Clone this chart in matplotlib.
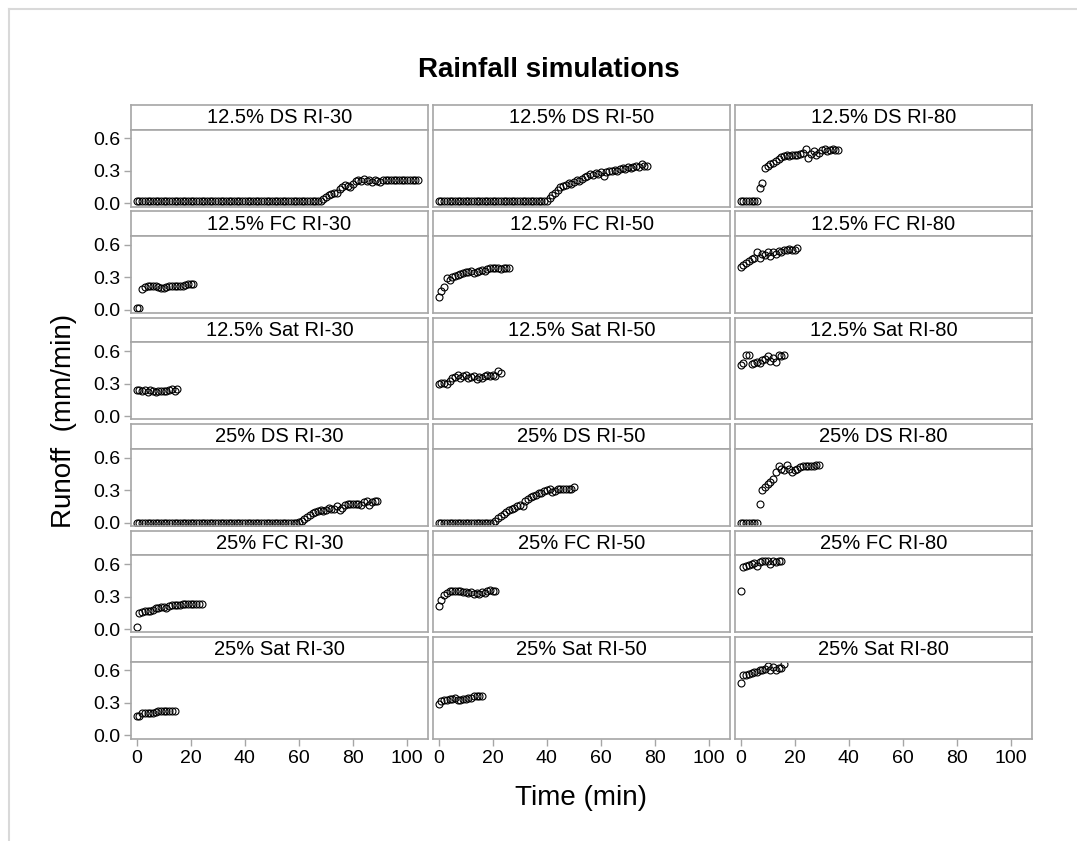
import numpy as np
import matplotlib.pyplot as plt
from matplotlib.lines import Line2D

plt.rcParams['font.family'] = ['Liberation Sans', 'DejaVu Sans']

panel_titles = [
    "12.5% DS RI-30", "12.5% DS RI-50", "12.5% DS RI-80",
    "12.5% FC RI-30", "12.5% FC RI-50", "12.5% FC RI-80",
    "12.5% Sat RI-30", "12.5% Sat RI-50", "12.5% Sat RI-80",
    "25% DS RI-30", "25% DS RI-50", "25% DS RI-80",
    "25% FC RI-30", "25% FC RI-50", "25% FC RI-80",
    "25% Sat RI-30", "25% Sat RI-50", "25% Sat RI-80",
]

# runoff (mm/min), one reading per minute starting at t = 0
ds125_ri30 = [
    0.02, 0.02, 0.02, 0.02, 0.02, 0.02, 0.02, 0.02, 0.02, 0.02,
    0.02, 0.02, 0.02, 0.02, 0.02, 0.02, 0.02, 0.02, 0.02, 0.02,
    0.02, 0.02, 0.02, 0.02, 0.02, 0.02, 0.02, 0.02, 0.02, 0.02,
    0.02, 0.02, 0.02, 0.02, 0.02, 0.02, 0.02, 0.02, 0.02, 0.02,
    0.02, 0.02, 0.02, 0.02, 0.02, 0.02, 0.02, 0.02, 0.02, 0.02,
    0.02, 0.02, 0.02, 0.02, 0.02, 0.02, 0.02, 0.02, 0.02, 0.02,
    0.02, 0.02, 0.02, 0.02, 0.02, 0.02, 0.02, 0.02, 0.02, 0.04,
    0.06, 0.08, 0.09, 0.10, 0.10, 0.13, 0.15, 0.17, 0.16, 0.15,
    0.18, 0.21, 0.22, 0.21, 0.23, 0.21, 0.22, 0.20, 0.22, 0.21,
    0.20, 0.22, 0.22, 0.22, 0.22, 0.22, 0.22, 0.22, 0.22, 0.22,
    0.22, 0.22, 0.22, 0.22, 0.22,
]
ds125_ri50 = [
    0.02, 0.02, 0.02, 0.02, 0.02, 0.02, 0.02, 0.02, 0.02, 0.02,
    0.02, 0.02, 0.02, 0.02, 0.02, 0.02, 0.02, 0.02, 0.02, 0.02,
    0.02, 0.02, 0.02, 0.02, 0.02, 0.02, 0.02, 0.02, 0.02, 0.02,
    0.02, 0.02, 0.02, 0.02, 0.02, 0.02, 0.02, 0.02, 0.02, 0.02,
    0.02, 0.05, 0.08, 0.10, 0.12, 0.15, 0.16, 0.17, 0.19, 0.18,
    0.20, 0.22, 0.21, 0.23, 0.24, 0.25, 0.27, 0.26, 0.28, 0.27,
    0.29, 0.25, 0.29, 0.30, 0.30, 0.31, 0.30, 0.32, 0.33, 0.32,
    0.34, 0.33, 0.34, 0.35, 0.34, 0.36, 0.35, 0.35,
]
ds125_ri80 = [
    0.02, 0.02, 0.02, 0.02, 0.02, 0.02, 0.02, 0.14, 0.19, 0.33,
    0.35, 0.36, 0.37, 0.39, 0.41, 0.43, 0.44, 0.45, 0.44, 0.45,
    0.45, 0.45, 0.46, 0.47, 0.50, 0.42, 0.46, 0.48, 0.45, 0.47,
    0.49, 0.50, 0.48, 0.49, 0.50, 0.49, 0.49,
]
fc125_ri30 = [
    0.02, 0.02, 0.19, 0.21, 0.22, 0.22, 0.22, 0.22, 0.21, 0.20,
    0.20, 0.21, 0.22, 0.22, 0.22, 0.22, 0.22, 0.22, 0.23, 0.24,
    0.24, 0.24,
]
fc125_ri50 = [
    0.12, 0.17, 0.21, 0.29, 0.28, 0.30, 0.31, 0.32, 0.33, 0.34,
    0.35, 0.35, 0.36, 0.34, 0.35, 0.36, 0.37, 0.36, 0.38, 0.39,
    0.39, 0.39, 0.39, 0.38, 0.39, 0.39, 0.39,
]
fc125_ri80 = [
    0.40, 0.41, 0.43, 0.45, 0.47, 0.48, 0.53, 0.48, 0.52, 0.51,
    0.53, 0.50, 0.53, 0.52, 0.54, 0.53, 0.55, 0.55, 0.56, 0.55,
    0.55, 0.57,
]
sat125_ri30 = [
    0.24, 0.24, 0.23, 0.24, 0.22, 0.24, 0.23, 0.22, 0.23, 0.23,
    0.23, 0.23, 0.24, 0.25, 0.23, 0.25,
]
sat125_ri50 = [
    0.30, 0.31, 0.31, 0.30, 0.33, 0.35, 0.36, 0.38, 0.35, 0.37,
    0.38, 0.35, 0.36, 0.37, 0.34, 0.36, 0.35, 0.37, 0.38, 0.37,
    0.38, 0.37, 0.42, 0.40,
]
sat125_ri80 = [
    0.47, 0.49, 0.57, 0.57, 0.48, 0.49, 0.50, 0.49, 0.52, 0.53,
    0.56, 0.51, 0.54, 0.50, 0.57, 0.56, 0.57,
]
ds25_ri30 = [
    0.00, 0.00, 0.00, 0.00, 0.00, 0.00, 0.00, 0.00, 0.00, 0.00,
    0.00, 0.00, 0.00, 0.00, 0.00, 0.00, 0.00, 0.00, 0.00, 0.00,
    0.00, 0.00, 0.00, 0.00, 0.00, 0.00, 0.00, 0.00, 0.00, 0.00,
    0.00, 0.00, 0.00, 0.00, 0.00, 0.00, 0.00, 0.00, 0.00, 0.00,
    0.00, 0.00, 0.00, 0.00, 0.00, 0.00, 0.00, 0.00, 0.00, 0.00,
    0.00, 0.00, 0.00, 0.00, 0.00, 0.00, 0.00, 0.00, 0.00, 0.00,
    0.01, 0.02, 0.03, 0.05, 0.07, 0.09, 0.10, 0.11, 0.12, 0.11,
    0.12, 0.14, 0.13, 0.13, 0.15, 0.12, 0.14, 0.16, 0.17, 0.17,
    0.17, 0.17, 0.17, 0.16, 0.19, 0.20, 0.16, 0.19, 0.20, 0.20,
]
ds25_ri50 = [
    0.00, 0.00, 0.00, 0.00, 0.00, 0.00, 0.00, 0.00, 0.00, 0.00,
    0.00, 0.00, 0.00, 0.00, 0.00, 0.00, 0.00, 0.00, 0.00, 0.00,
    0.00, 0.02, 0.04, 0.06, 0.08, 0.10, 0.12, 0.13, 0.14, 0.15,
    0.16, 0.15, 0.20, 0.22, 0.24, 0.25, 0.26, 0.27, 0.27, 0.29,
    0.30, 0.31, 0.28, 0.29, 0.31, 0.31, 0.31, 0.31, 0.31, 0.31,
    0.33,
]
ds25_ri80 = [
    0.00, 0.00, 0.00, 0.00, 0.00, 0.00, 0.00, 0.17, 0.30, 0.33,
    0.36, 0.38, 0.40, 0.47, 0.52, 0.50, 0.49, 0.53, 0.50, 0.47,
    0.49, 0.50, 0.51, 0.52, 0.52, 0.52, 0.52, 0.52, 0.53, 0.53,
]
fc25_ri30 = [
    0.02, 0.15, 0.16, 0.17, 0.17, 0.17, 0.18, 0.19, 0.19, 0.20,
    0.20, 0.19, 0.21, 0.22, 0.22, 0.22, 0.22, 0.23, 0.23, 0.23,
    0.23, 0.23, 0.23, 0.23, 0.23,
]
fc25_ri50 = [
    0.21, 0.27, 0.31, 0.33, 0.35, 0.35, 0.35, 0.35, 0.35, 0.34,
    0.34, 0.33, 0.34, 0.32, 0.33, 0.32, 0.34, 0.33, 0.35, 0.36,
    0.35, 0.35,
]
fc25_ri80 = [
    0.35, 0.57, 0.58, 0.59, 0.60, 0.61, 0.58, 0.62, 0.63, 0.63,
    0.63, 0.60, 0.63, 0.62, 0.63, 0.63,
]
sat25_ri30 = [
    0.18, 0.18, 0.21, 0.21, 0.21, 0.21, 0.21, 0.22, 0.23, 0.23,
    0.23, 0.23, 0.23, 0.23, 0.23,
]
sat25_ri50 = [
    0.29, 0.32, 0.33, 0.33, 0.34, 0.34, 0.35, 0.33, 0.33, 0.34,
    0.34, 0.35, 0.35, 0.36, 0.36, 0.36, 0.36,
]
sat25_ri80 = [
    0.48, 0.56, 0.56, 0.57, 0.58, 0.59, 0.59, 0.60, 0.60, 0.61,
    0.64, 0.60, 0.63, 0.60, 0.62, 0.62, 0.66,
]

series = [
    ds125_ri30, ds125_ri50, ds125_ri80,
    fc125_ri30, fc125_ri50, fc125_ri80,
    sat125_ri30, sat125_ri50, sat125_ri80,
    ds25_ri30, ds25_ri50, ds25_ri80,
    fc25_ri30, fc25_ri50, fc25_ri80,
    sat25_ri30, sat25_ri50, sat25_ri80,
]

x_ticks = [0, 20, 40, 60, 80, 100]
y_ticks = [0.0, 0.3, 0.6]
y_ticklabels = ["0.0", "0.3", "0.6"]

W, H = 1077, 841
frame = "#a6a6a6"
fig = plt.figure(figsize=(W / 100, H / 100), dpi=100)

col_left = [131, 433, 735]
col_w = 297
strip_h = 24.5
panel_h = 77
row_step = 106.4

for i, (title, y) in enumerate(zip(panel_titles, series)):
    r, c = divmod(i, 3)
    top = 105 + r * row_step

    # strip with panel label
    sax = fig.add_axes([col_left[c] / W, 1 - (top + strip_h) / H, col_w / W, strip_h / H])
    sax.set_xticks([])
    sax.set_yticks([])
    for s in sax.spines.values():
        s.set_color(frame)
        s.set_linewidth(1.2)
    sax.text(0.5, 0.48, title, ha="center", va="center", fontsize=14.5,
             transform=sax.transAxes)

    ax = fig.add_axes([col_left[c] / W, 1 - (top + strip_h + panel_h) / H,
                       col_w / W, panel_h / H])
    t = np.arange(len(y))
    ax.plot(t, y, "o", ms=5, mfc="none", mec="black", mew=0.8)
    ax.set_xlim(-2.1, 107.7)
    ax.set_ylim(-0.028, 0.683)
    for s in ax.spines.values():
        s.set_color(frame)
        s.set_linewidth(1.2)
    ax.tick_params(colors=frame, labelcolor="black", labelsize=14,
                   length=5, width=1, direction="out", pad=3)
    ax.set_xticks(x_ticks)
    ax.set_yticks(y_ticks)
    if c == 0:
        ax.set_yticklabels(y_ticklabels)
    else:
        ax.tick_params(axis="y", left=False, labelleft=False)
    if r == 5:
        ax.set_xticklabels([str(v) for v in x_ticks])
    else:
        ax.tick_params(axis="x", bottom=False, labelbottom=False)

fig.text(549 / W, 1 - 70 / H, "Rainfall simulations", ha="center", va="center",
         fontsize=20, fontweight="bold")
fig.text(581 / W, 1 - 798 / H, "Time (min)", ha="center", va="center", fontsize=20)
fig.text(64 / W, 1 - 421 / H, "Runoff  (mm/min)", ha="center", va="center",
         fontsize=20, rotation=90)

# light outer frame
fig.add_artist(Line2D([9 / W, 1], [1 - 9 / H, 1 - 9 / H], color="#d9d9d9", lw=1.5))
fig.add_artist(Line2D([9 / W, 9 / W], [0, 1 - 9 / H], color="#d9d9d9", lw=1.5))

fig.savefig("out.png", dpi=100)
plt.close(fig)
